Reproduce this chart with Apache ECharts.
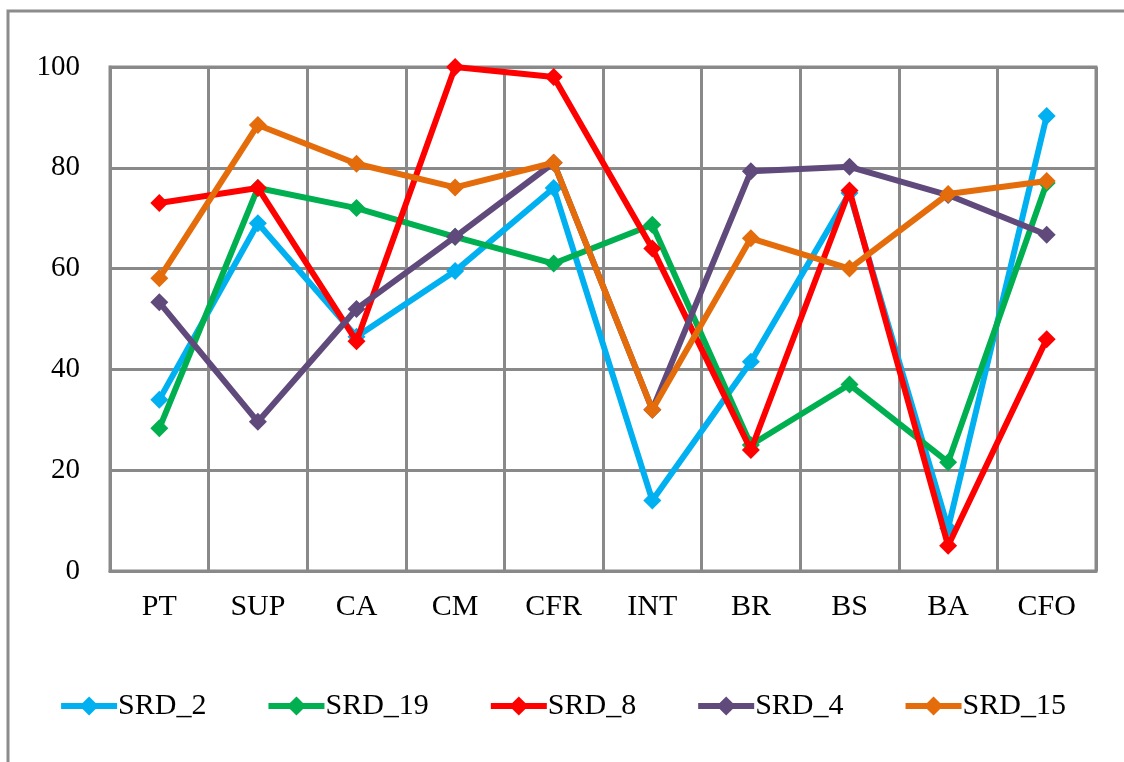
<!DOCTYPE html>
<html>

<head>
  <meta charset="utf-8">
  <script src="https://cdn.jsdelivr.net/npm/echarts@6/dist/echarts.min.js"></script>
</head>

<body style="margin:0;background:#fff;">
  <div id="main" style="width: 1124px;height:762px;"></div>
  <script>
    var categories = ['PT', 'SUP', 'CA', 'CM', 'CFR', 'INT', 'BR', 'BS', 'BA', 'CFO'];
    var srd2 = [34, 69, 46.5, 59.5, 76, 14, 41.5, 75, 8.5, 90.3];
    var srd19 = [28.3, 76, 72, 66.3, 61, 68.7, 25, 37, 21.6, 77];
    var srd8 = [73, 76, 45.6, 100, 98, 64, 24, 75.5, 5, 46];
    var srd4 = [53.3, 29.6, 52, 66.3, 81, 32, 79.3, 80.2, 74.6, 66.7];
    var srd15 = [58.1, 88.5, 80.8, 76.1, 81, 32, 66, 60, 74.8, 77.4];

    var names = ['SRD_2', 'SRD_19', 'SRD_8', 'SRD_4', 'SRD_15'];
    var colors = ['#00B0F0', '#00B050', '#FF0000', '#604A7B', '#E46C0A'];
    var values = [srd2, srd19, srd8, srd4, srd15];

    var myChart = echarts.init(document.getElementById('main'));
    var font = 'Liberation Serif';

    const seriesList = [];
    for (let i = 0; i < names.length; i++) {
      seriesList.push({
        name: names[i],
        type: 'line',
        data: values[i],
        symbol: 'diamond',
        symbolSize: 18,
        lineStyle: { width: 6, color: colors[i] },
        itemStyle: { color: colors[i] },
        z: 3 + i
      });
    }

    option = {
      animation: false,
      color: colors,
      graphic: [{
        type: 'rect',
        shape: { x: 8, y: 11, width: 1130, height: 770 },
        style: { fill: null, stroke: '#8c8c8c', lineWidth: 3 },
        silent: true
      }],
      legend: {
        bottom: 36,
        left: 'center',
        itemWidth: 56,
        itemHeight: 24,
        itemGap: 59,
        lineStyle: { width: 6 },
        textStyle: { fontFamily: font, fontSize: 30, color: '#000', padding: [0, 0, 0, -4] },
        data: names
      },
      grid: {
        left: 110,
        right: 28,
        top: 67,
        bottom: 191,
        show: true,
        borderColor: '#898989',
        borderWidth: 3
      },
      xAxis: {
        type: 'category',
        data: categories,
        boundaryGap: true,
        axisLine: { lineStyle: { color: '#898989', width: 3 } },
        axisTick: { show: false },
        axisLabel: { fontFamily: font, fontSize: 30, color: '#000', margin: 21 },
        splitLine: { show: true, lineStyle: { color: '#898989', width: 3 } }
      },
      yAxis: {
        type: 'value',
        min: 0,
        max: 100,
        interval: 20,
        axisLine: { show: true, lineStyle: { color: '#898989', width: 3 } },
        axisTick: { show: false },
        axisLabel: { fontFamily: font, fontSize: 29, color: '#000', margin: 30 },
        splitLine: { lineStyle: { color: '#898989', width: 3 } }
      },
      series: seriesList
    };

    myChart.setOption(option);

  </script>
</body>

</html>
